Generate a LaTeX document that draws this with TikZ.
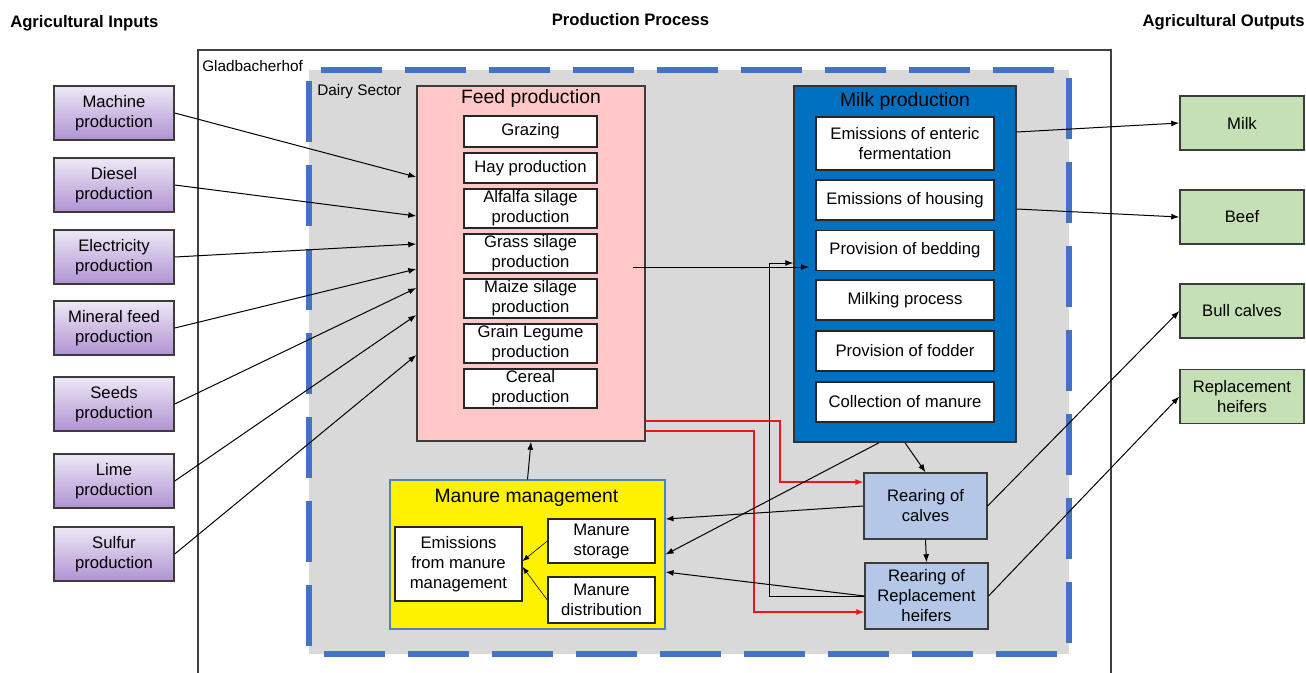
\documentclass[tikz,border=0pt]{standalone}
\usepackage{fontspec}
\setmainfont{Liberation Sans}
\usepackage{tikz}
\usetikzlibrary{shapes,arrows,arrows.meta}

\definecolor{inTop}{RGB}{238,232,246}
\definecolor{inBot}{RGB}{176,146,210}
\definecolor{feedPink}{RGB}{255,199,199}
\definecolor{milkBlue}{RGB}{0,112,192}
\definecolor{outGreen}{RGB}{197,224,180}
\definecolor{rearBlue}{RGB}{180,199,231}
\definecolor{sectGray}{RGB}{217,217,217}
\definecolor{dashBlue}{RGB}{68,114,196}
\definecolor{boxLine}{RGB}{60,60,60}
\definecolor{manLine}{RGB}{84,130,176}
\definecolor{flowRed}{RGB}{240,20,20}

\tikzset{
  txt/.style={font=\fontsize{12.5}{15}\selectfont, align=center, inner sep=1pt},
  inbox/.style={txt, draw=boxLine, line width=1.1pt, top color=inTop, bottom color=inBot, minimum width=90pt, minimum height=40.5pt},
  subbox/.style={txt, draw=black!85, line width=1pt, fill=white},
  feedsub/.style={subbox, minimum width=99.75pt, minimum height=29.25pt},
  milksub/.style={subbox, minimum width=133.5pt, minimum height=30pt},
  outbox/.style={txt, draw=boxLine, line width=1.1pt, fill=outGreen, minimum width=93pt, minimum height=40.5pt},
  rearbox/.style={txt, draw=boxLine, line width=1.1pt, fill=rearBlue, minimum width=92pt, minimum height=49.5pt},
  boxhead/.style={font=\fontsize{14.5}{17}\selectfont, inner sep=0pt},
  toptitle/.style={font=\fontsize{12.5}{15}\selectfont\bfseries, inner sep=0pt},
  arealabel/.style={font=\fontsize{11.5}{14}\selectfont, inner sep=0pt, anchor=west},
  arr/.style={-{Latex[length=6pt,width=4.5pt]}, line width=0.75pt},
  redarr/.style={arr, flowRed, line width=0.95pt},
  thinarr/.style={-{Latex[length=5pt,width=4pt]}, line width=0.45pt},
}

\begin{document}
\begin{tikzpicture}[x=0.75pt,y=0.75pt,yscale=-1,xscale=1]
    \useasboundingbox (0,0) rectangle (1306,672);

    % Titles
    \node[toptitle, anchor=west] (inputs) at (10,23) {Agricultural Inputs};
    \node[toptitle] (process) at (630.5,20) {Production Process};
    \node[toptitle, anchor=east] (outputs) at (1305,22) {Agricultural Outputs};

    %Shape: Farm frame
    \draw[line width=1pt, black!75] (198,690) -- (198,50) -- (1111,50) -- (1111,690);
    \node[arealabel] (farm) at (202,66) {Gladbacherhof};

    %Shape: Dairy sector
    \draw[draw=dashBlue, line width=4.5pt, dash pattern=on 46pt off 17pt, dash phase=-8pt, fill=sectGray] (309,70) rectangle (1069,654);
    \node[arealabel] (dairy) at (317,92) {Dairy Sector};

    % Inputs
    \node[inbox] (machine) at (114,113) {Machine\\production};
    \node[inbox] (diesel) at (114,185) {Diesel\\production};
    \node[inbox] (electricity) at (114,257) {Electricity\\production};
    \node[inbox] (mineral) at (114,328) {Mineral feed\\production};
    \node[inbox] (seeds) at (114,404) {Seeds\\production};
    \node[inbox] (lime) at (114,481) {Lime\\production};
    \node[inbox] (sulfur) at (114,554) {Sulfur\\production};

    % Feed production
    \node[draw=boxLine, line width=1.1pt, fill=feedPink, minimum width=171pt, minimum height=266.25pt] (feedbox) at (531,263.5) {};
    \node[boxhead] (feedhead) at (531,98) {Feed production};
    \node[feedsub, minimum height=23.25pt] (grazing) at (530.5,131.5) {Grazing};
    \node[feedsub, minimum height=22.5pt] (hay) at (530.5,168) {Hay production};
    \node[feedsub] (alfalfa) at (530.5,208.5) {Alfalfa silage\\production};
    \node[feedsub] (grass) at (530.5,253.5) {Grass silage\\production};
    \node[feedsub] (maize) at (530.5,298.5) {Maize silage\\production};
    \node[feedsub] (legume) at (530.5,343.5) {Grain Legume\\production};
    \node[feedsub] (cereal) at (530.5,388.5) {Cereal\\production};

    % Milk production
    \node[draw=black!80, line width=1.1pt, fill=milkBlue, minimum width=166.5pt, minimum height=267pt] (milkbox) at (905,264) {};
    \node[boxhead] (milkhead) at (905,101) {Milk production};
    \node[milksub, minimum height=39.75pt] (enteric) at (905,143.5) {Emissions of enteric\\fermentation};
    \node[milksub] (housing) at (905,200) {Emissions of housing};
    \node[milksub] (bedding) at (905,250.5) {Provision of bedding};
    \node[milksub] (milking) at (905,300) {Milking process};
    \node[milksub] (fodder) at (905,351) {Provision of fodder};
    \node[milksub] (collect) at (905,402) {Collection of manure};

    % Manure management
    \node[draw=manLine, line width=0.8pt, fill=yellow, minimum width=206.25pt, minimum height=111.75pt] (manbox) at (527.5,554.5) {};
    \node[boxhead] (manhead) at (526.5,498) {Manure management};
    \node[subbox, minimum width=95.25pt, minimum height=55.5pt] (emis) at (458.5,564) {Emissions\\from manure\\management};
    \node[subbox, minimum width=80.25pt, minimum height=33pt] (storage) at (601.5,541) {Manure\\storage};
    \node[subbox, minimum width=80.25pt, minimum height=34.5pt] (distrib) at (601.5,600) {Manure\\distribution};

    % Rearing
    \node[rearbox] (rearcalves) at (925.5,506) {Rearing of\\calves};
    \node[rearbox] (rearheifers) at (926.5,596) {Rearing of\\Replacement\\heifers};

    % Outputs
    \node[outbox] (milk) at (1242,123) {Milk};
    \node[outbox] (beef) at (1242,217) {Beef};
    \node[outbox] (bullcalves) at (1242,311) {Bull calves};
    \node[outbox] (replheifers) at (1242,396.5) {Replacement\\heifers};

    % Connectors
    \foreach \n/\y in {machine/177,diesel/216,electricity/244,mineral/269,seeds/288,lime/315,sulfur/355}
        \draw[arr] (\n.east) -- (feedbox.west |- 0,\y);

    \coordinate (feedout) at (633,267);
    \coordinate (milkin) at (809,267);
    \draw[arr] (feedout) -- (milkin);
    \draw[arr] (rearheifers.west) -- (769,596) |- (milkbox.west |- 0,263);

    \draw[redarr] (feedbox.east |- 0,421) -| (780,482) -- (rearcalves.west |- 0,482);
    \draw[redarr] (feedbox.east |- 0,431) -| (754,612) -- (rearheifers.west |- 0,612);

    \draw[arr] (milkbox.south) -- (rearcalves.north);
    \draw[arr] (milkbox.south -| 879,0) -- (manbox.east);
    \draw[arr] (rearcalves.west) -- (manbox.east |- 0,519);
    \draw[arr] (rearheifers.west) -- (manbox.east |- 0,572);
    \draw[arr] (rearcalves.south) -- (rearheifers.north);
    \draw[arr] (manbox.north) -- (feedbox.south);
    \draw[thinarr] (storage.west) -- (emis.east |- 0,561);
    \draw[thinarr] (distrib.west) -- (emis.east |- 0,567);

    \draw[arr] (milkbox.east |- 0,132) -- (milk.west);
    \draw[arr] (milkbox.east |- 0,209) -- (beef.west);
    \draw[arr] (rearcalves.east) -- (bullcalves.west);
    \draw[arr] (rearheifers.east) -- (replheifers.west);

\end{tikzpicture}
\end{document}
